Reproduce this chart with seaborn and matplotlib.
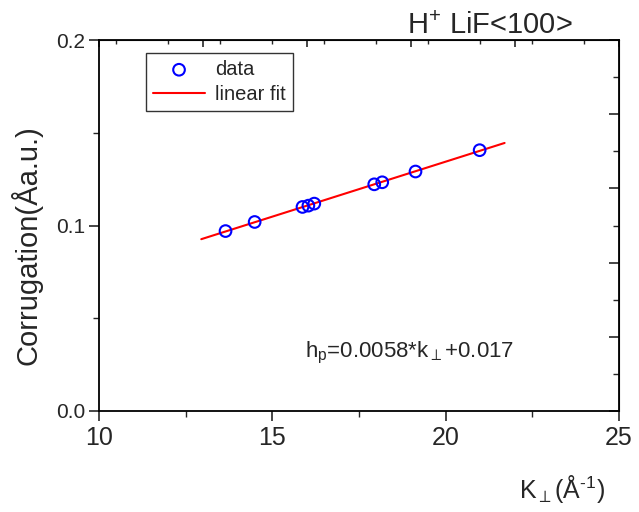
import numpy as np
import pandas as pd
import matplotlib
matplotlib.use("Agg")
import matplotlib.pyplot as plt
from matplotlib.ticker import MultipleLocator, FormatStrFormatter
import seaborn as sns

# ---- data ----
k_perp = [13.65, 14.49, 15.87, 16.04, 16.21, 17.94, 18.17, 19.13, 20.98]
corrugation = [0.0970, 0.1019, 0.1100, 0.1107, 0.1118, 0.1222, 0.1233, 0.1291, 0.1406]
fit_range = [12.95, 21.70]
x_ticks = [10, 15, 20, 25]
y_ticks = [0.0, 0.1, 0.2]

sns.set_style("ticks")
plt.rcParams["font.family"] = ["Liberation Sans", "DejaVu Sans"]
plt.rcParams["mathtext.fontset"] = "custom"
plt.rcParams["mathtext.rm"] = "Liberation Sans"
plt.rcParams["mathtext.it"] = "Liberation Sans"
plt.rcParams["mathtext.sf"] = "Liberation Sans"

fig = plt.figure(figsize=(6.39, 5.12), dpi=100)
ax = fig.add_axes([99 / 639, 1 - 411 / 512, (619 - 99) / 639, (411 - 40) / 512])

df = pd.DataFrame({"k": k_perp, "c": corrugation})
coef = np.polyfit(df["k"], df["c"], 1)
fit_df = pd.DataFrame({"k": fit_range, "c": np.polyval(coef, fit_range)})

sns.lineplot(data=fit_df, x="k", y="c", ax=ax, color="red", lw=1.5,
             label="linear fit", zorder=2)
sns.scatterplot(data=df, x="k", y="c", ax=ax, marker="o", s=70,
                facecolor="none", edgecolor="blue", linewidth=1.5,
                label="data", zorder=3)

ax.set_xlim(10, 25)
ax.set_ylim(0.0, 0.2)
ax.set_xticks(x_ticks)
ax.set_yticks(y_ticks)
ax.xaxis.set_minor_locator(MultipleLocator(2.5))
ax.yaxis.set_minor_locator(MultipleLocator(0.05))
ax.yaxis.set_major_formatter(FormatStrFormatter("%.1f"))
ax.tick_params(axis="x", which="major", direction="out", length=7, width=1.2,
               labelsize=18, pad=4)
ax.tick_params(axis="y", which="major", direction="out", length=7, width=1.2,
               labelsize=15, pad=3)
ax.tick_params(which="minor", direction="out", length=4, width=1.0)
for s in ax.spines.values():
    s.set_color("black")
    s.set_linewidth(1.3)
    s.set_visible(True)

top = ax.secondary_xaxis("top")
top.set_xticks(np.arange(10, 26, 3))
top.xaxis.set_minor_locator(MultipleLocator(1.5))
top.tick_params(axis="x", which="major", direction="in", length=5, width=1.2,
                labeltop=False)
top.tick_params(axis="x", which="minor", direction="in", length=3, width=1.0)

right = ax.secondary_yaxis("right")
right.set_yticks(np.arange(0, 0.201, 0.04))
right.yaxis.set_minor_locator(MultipleLocator(0.02))
right.tick_params(axis="y", which="major", direction="in", length=7, width=1.2,
                  labelright=False)
right.tick_params(axis="y", which="minor", direction="in", length=4, width=1.0)

ax.set_xlabel("")
ax.set_ylabel("")
fig.text(27 / 639, 1 - 245 / 512, "Corrugation(Åa.u.)", fontsize=21,
         rotation=90, ha="center", va="center")

fig.text(519 / 639, 1 - 498 / 512, r"K$_{\perp}$(Å$^{\text{-1}}$)", fontsize=18,
         ha="left", va="baseline")
fig.text(407 / 639, 1 - 34 / 512, r"H$^{+}$ LiF<100>", fontsize=21,
         ha="left", va="baseline")
ax.text((305 - 99) / 520, (411 - 357) / 371, r"h$_{p}$=0.0058*k$_{\perp}$+0.017",
        transform=ax.transAxes, fontsize=16, ha="left", va="baseline")

handles, labels = ax.get_legend_handles_labels()
order = [labels.index("data"), labels.index("linear fit")]
leg = ax.legend([handles[i] for i in order], [labels[i] for i in order],
                loc="upper left", bbox_to_anchor=(0.09, 0.965), fontsize=14.5,
                frameon=True, fancybox=False, shadow=False, borderpad=0.35,
                handlelength=2.6, handletextpad=0.5, labelspacing=0.3,
                borderaxespad=0)
leg.get_frame().set_edgecolor("black")
leg.get_frame().set_linewidth(1.0)

fig.savefig("out.png", dpi=100, facecolor="white")
